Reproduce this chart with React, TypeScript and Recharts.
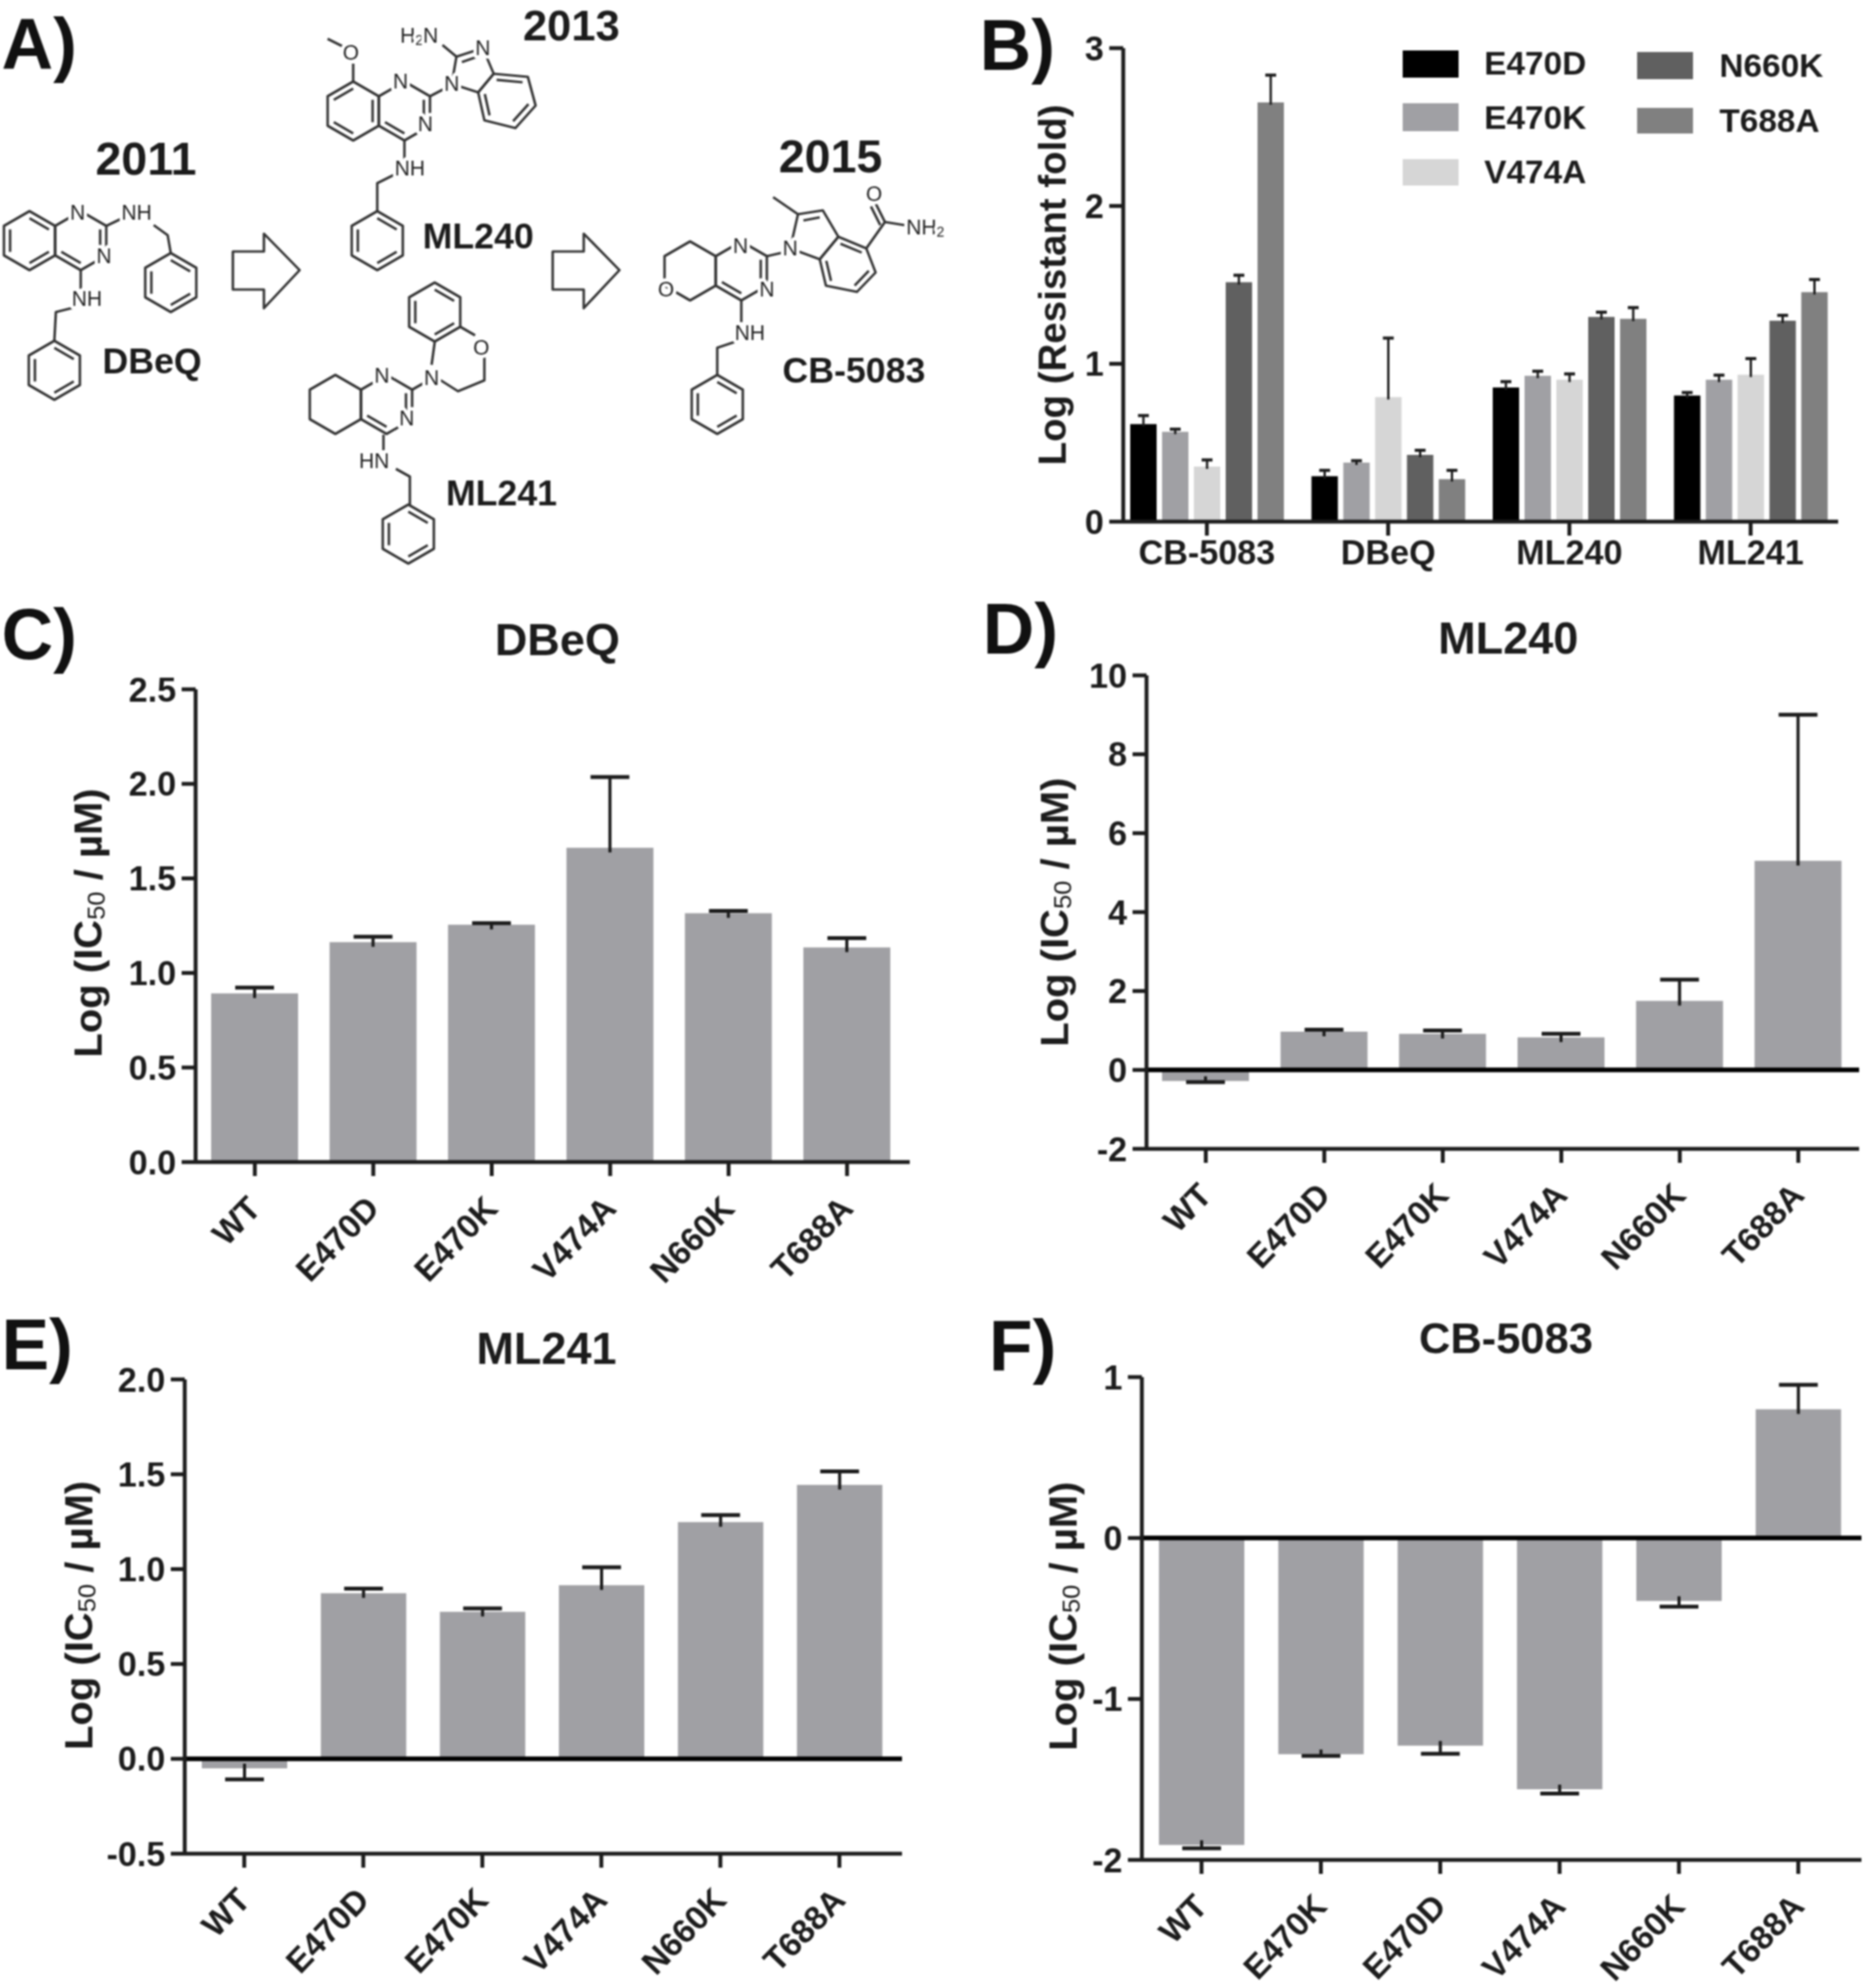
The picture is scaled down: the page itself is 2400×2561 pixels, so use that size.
import React from "react";
import { BarChart, Bar, XAxis, YAxis, ReferenceLine, Legend } from "recharts";

const FONT = "'Liberation Sans', Arial, sans-serif";
const INK = "#1c1c1c";
const BAR_GREY = "#a0a0a4";

// Panel B
const compounds = ["CB-5083", "DBeQ", "ML240", "ML241"];
const e470dFold = [0.618, 0.288, 0.85, 0.799];
const e470dFoldErr = [0.054, 0.037, 0.037, 0.019];
const e470kFold = [0.569, 0.374, 0.924, 0.899];
const e470kFoldErr = [0.017, 0.012, 0.029, 0.029];
const v474aFold = [0.349, 0.789, 0.899, 0.931];
const v474aFoldErr = [0.042, 0.374, 0.037, 0.102];
const n660kFold = [1.517, 0.423, 1.297, 1.273];
const n660kFoldErr = [0.044, 0.029, 0.03, 0.034];
const t688aFold = [2.656, 0.269, 1.285, 1.454];
const t688aFoldErr = [0.173, 0.056, 0.071, 0.08];
const foldTicks = [0, 1, 2, 3];

// Panels C-F
const mutants = ["WT", "E470D", "E470K", "V474A", "N660K", "T688A"];
const mutantsF = ["WT", "E470K", "E470D", "V474A", "N660K", "T688A"];

const dbeqValues = [0.892, 1.163, 1.255, 1.662, 1.316, 1.135];
const dbeqErrors = [0.031, 0.028, 0.008, 0.374, 0.012, 0.049];
const dbeqTicks = [0, 0.5, 1, 1.5, 2, 2.5];

const ml240Values = [-0.28, 0.97, 0.915, 0.825, 1.75, 5.3];
const ml240Errors = [0.03, 0.05, 0.085, 0.09, 0.54, 3.7];
const ml240Ticks = [-2, 0, 2, 4, 6, 8, 10];

const ml241Values = [-0.05, 0.873, 0.775, 0.915, 1.248, 1.444];
const ml241Errors = [0.058, 0.024, 0.018, 0.095, 0.037, 0.071];
const ml241Ticks = [-0.5, 0, 0.5, 1, 1.5, 2];

const cb5083Values = [-1.907, -1.343, -1.29, -1.561, -0.391, 0.8];
const cb5083Errors = [0.021, 0.011, 0.05, 0.027, 0.035, 0.152];
const cb5083Ticks = [-2, -1, 0, 1];

const foldSeries = [
  { key: "E470D", values: e470dFold, errors: e470dFoldErr, color: "#000000" },
  { key: "E470K", values: e470kFold, errors: e470kFoldErr, color: "#a0a0a4" },
  { key: "V474A", values: v474aFold, errors: v474aFoldErr, color: "#d6d6d6" },
  { key: "N660K", values: n660kFold, errors: n660kFoldErr, color: "#606060" },
  { key: "T688A", values: t688aFold, errors: t688aFoldErr, color: "#808080" },
];

const foldData = compounds.map((name, i) => {
  const row: any = { name };
  foldSeries.forEach(s => {
    row[s.key] = s.values[i];
    row[s.key + "Err"] = s.errors[i];
  });
  return row;
});

const toRows = (names: string[], values: number[], errors: number[]) =>
  names.map((name, i) => ({ name, value: values[i], valueErr: errors[i] }));

// bar plus a one-sided whisker, px per unit comes from the bar the library sized
const whiskerBar = (dataKey: string, fill: string, capWidth: number, strokeWidth: number, dip: number) => (props: any) => {
  const { x, y, width, height, payload } = props;
  const value = payload[dataKey];
  const err = payload[dataKey + "Err"];
  const h = Math.abs(height);
  const top = Math.min(y, y + height);
  const neg = value < 0;
  const edge = neg ? top + h : top;
  const len = value !== 0 ? (err * h) / Math.abs(value) : 0;
  const tip = neg ? edge + len : edge - len;
  const inner = neg ? edge - dip : edge + dip;
  const mid = x + width / 2;
  return (
    <g>
      <rect x={x} y={top} width={width} height={h} fill={fill} />
      <line x1={mid} x2={mid} y1={inner} y2={tip} stroke={INK} strokeWidth={strokeWidth} />
      <line x1={mid - capWidth / 2} x2={mid + capWidth / 2} y1={tip} y2={tip} stroke={INK} strokeWidth={strokeWidth + 1} />
    </g>
  );
};

const rotatedTick = (props: any) => {
  const { x, y, payload } = props;
  return (
    <g transform={`translate(${x + 10},${y + 42})`}>
      <text textAnchor="end" transform="rotate(-46)" fontFamily={FONT} fontWeight="bold" fontSize={43} fill={INK}>
        {payload.value}
      </text>
    </g>
  );
};

const AXIS_W = 160;
const AXIS_H = 200;
const TOP_PAD = 40;

function GreyPanel({ rows, ticks, digits, box, barSize, padRight, zeroLine }: any) {
  const [left, right, top, bottom] = box;
  return (
    <div style={{ position: "absolute", left: left - AXIS_W, top: top - TOP_PAD }}>
      <BarChart
        width={right - left + AXIS_W + 10}
        height={bottom - top + TOP_PAD + AXIS_H}
        data={rows}
        margin={{ top: TOP_PAD, right: 10, bottom: 0, left: 0 }}
        barSize={barSize}
      >
        <XAxis
          dataKey="name"
          height={AXIS_H}
          interval={0}
          padding={{ left: 0, right: padRight }}
          tickSize={18}
          tick={rotatedTick}
          stroke={INK}
          strokeWidth={5}
        />
        <YAxis
          type="number"
          width={AXIS_W}
          domain={[ticks[0], ticks[ticks.length - 1]]}
          ticks={ticks}
          interval={0}
          tickSize={18}
          tickMargin={7}
          tickFormatter={(v: number) => v.toFixed(digits)}
          tick={{ fontFamily: FONT, fontWeight: "bold", fontSize: 44, fill: INK }}
          stroke={INK}
          strokeWidth={5}
        />
        <Bar
          dataKey="value"
          isAnimationActive={false}
          shape={whiskerBar("value", BAR_GREY, 50, 4, 6)}
        />
        {zeroLine && <ReferenceLine y={0} stroke="#000" strokeWidth={6} />}
      </BarChart>
    </div>
  );
}

const foldLegend = () => {
  const spots = [
    [1807, 65, 35, 81, 1912],
    [1807, 133, 36, 151, 1912],
    [1807, 205, 34, 221, 1912],
    [2109, 67, 35, 84, 2215],
    [2109, 139, 33, 155, 2215],
  ];
  return (
    <div style={{ position: "absolute", left: 0, top: 0, width: 0, height: 0 }}>
      {foldSeries.map((s, i) => {
        const [sx, sy, sh, ty, tx] = spots[i];
        const ox = 1447 - AXIS_W;
        const oy = 62 - TOP_PAD;
        return (
          <React.Fragment key={s.key}>
            <div style={{ position: "absolute", left: sx - ox, top: sy - oy, width: 72, height: sh, background: s.color }} />
            <div style={{ position: "absolute", left: tx - ox, top: ty - oy - 25, fontFamily: FONT, fontWeight: "bold", fontSize: 43, lineHeight: "50px", color: INK }}>
              {s.key}
            </div>
          </React.Fragment>
        );
      })}
    </div>
  );
};

function FoldPanel() {
  const [left, right, top, bottom] = [1447, 2368, 62, 672];
  return (
    <div style={{ position: "absolute", left: left - AXIS_W, top: top - TOP_PAD }}>
      <BarChart
        width={right - left + AXIS_W + 10}
        height={bottom - top + TOP_PAD + 80}
        data={foldData}
        margin={{ top: TOP_PAD, right: 10, bottom: 0, left: 0 }}
        barSize={34}
        barGap={7}
      >
        <XAxis
          dataKey="name"
          height={80}
          interval={0}
          padding={{ left: -9, right: -4 }}
          tickSize={18}
          tickMargin={6}
          tick={{ fontFamily: FONT, fontWeight: "bold", fontSize: 44, fill: INK }}
          stroke={INK}
          strokeWidth={5}
        />
        <YAxis
          type="number"
          width={AXIS_W}
          domain={[0, 3]}
          ticks={foldTicks}
          interval={0}
          tickSize={18}
          tickMargin={7}
          tick={{ fontFamily: FONT, fontSize: 44, fontWeight: "bold", fill: INK }}
          stroke={INK}
          strokeWidth={5}
        />
        <Legend content={foldLegend} wrapperStyle={{ position: "absolute", left: 0, top: 0, width: 0, height: 0 }} />
        {foldSeries.map(s => (
          <Bar
            key={s.key}
            dataKey={s.key}
            isAnimationActive={false}
            shape={whiskerBar(s.key, s.color, 14, 3, 3)}
          />
        ))}
      </BarChart>
    </div>
  );
}

// ---- panel A: the chemical structures and everything that is only lettering ----

type Pt = [number, number];

const hexPts = (cx: number, cy: number, r = 38): Pt[] =>
  [0, 1, 2, 3, 4, 5].map(i => {
    const a = (-90 + 60 * i) * (Math.PI / 180);
    return [cx + r * Math.cos(a), cy + r * Math.sin(a)] as Pt;
  });

function Ring({ pts, doubles = [] }: { pts: Pt[]; doubles?: number[] }) {
  const cx = pts.reduce((s, p) => s + p[0], 0) / pts.length;
  const cy = pts.reduce((s, p) => s + p[1], 0) / pts.length;
  const pull = (p: Pt): Pt => [cx + (p[0] - cx) * 0.76, cy + (p[1] - cy) * 0.76];
  return (
    <g>
      <polygon points={pts.map(p => p.join(",")).join(" ")} fill="none" />
      {doubles.map(i => {
        const a = pull(pts[i]);
        const b = pull(pts[(i + 1) % pts.length]);
        return <line key={i} x1={a[0]} y1={a[1]} x2={b[0]} y2={b[1]} />;
      })}
    </g>
  );
}

const Path = ({ pts }: { pts: Pt[] }) => <polyline points={pts.map(p => p.join(",")).join(" ")} fill="none" />;

const Atom = ({ x, y, t }: { x: number; y: number; t: React.ReactNode }) => (
  <text
    x={x}
    y={y}
    textAnchor="middle"
    dominantBaseline="central"
    fontFamily={FONT}
    fontSize={27}
    fill="#222"
    stroke="#fff"
    strokeWidth={9}
    paintOrder="stroke"
    style={{ strokeLinejoin: "round" }}
  >
    {t}
  </text>
);

const Sub = ({ t }: { t: string }) => (
  <tspan fontSize={18} dy={6}>{t}</tspan>
);

const Bold = ({ x, y, t, size = 46 }: { x: number; y: number; t: string; size?: number }) => (
  <text x={x} y={y} textAnchor="middle" dominantBaseline="central" fontFamily={FONT} fontWeight="bold" fontSize={size} fill={INK}>
    {t}
  </text>
);

const AxisTitle = ({ x, y, len, children }: any) => (
  <text
    transform={`translate(${x},${y}) rotate(-90)`}
    textAnchor="middle"
    dominantBaseline="central"
    fontFamily={FONT}
    fontWeight="bold"
    fontSize={50}
    fill={INK}
    textLength={len}
    lengthAdjust="spacingAndGlyphs"
  >
    {children}
  </text>
);

const ic50Label = [
  <tspan key="a">Log (IC</tspan>,
  <tspan key="b" fontSize={32} fontWeight="normal" dy={10}>50</tspan>,
  <tspan key="c" dy={-10}> / µM)</tspan>,
];

const PanelLetter = ({ x, y, t }: { x: number; y: number; t: string }) => (
  <text x={x} y={y} fontFamily={FONT} fontWeight="bold" fontSize={92} fill="#111">
    {t}
  </text>
);

const arrowPts = (x: number) =>
  [[x, 324], [x + 40, 324], [x + 40, 301], [x + 86, 348], [x + 40, 397], [x + 40, 373], [x, 373]].map(p => p.join(",")).join(" ");

function Overlay() {
  return (
    <svg width={2400} height={2561} style={{ position: "absolute", left: 0, top: 0, pointerEvents: "none" }}>
      <g stroke="#333" strokeWidth={3.2} strokeLinejoin="round">
        {/* DBeQ */}
        <Ring pts={hexPts(38, 310)} doubles={[0, 2, 4]} />
        <Ring pts={hexPts(104, 310)} doubles={[1, 3]} />
        <Path pts={[[137, 291], [160, 280]]} />
        <Path pts={[[198, 290], [216, 303], [220, 326]]} />
        <Ring pts={hexPts(220, 364)} doubles={[0, 2, 4]} />
        <Path pts={[[104, 348], [104, 372]]} />
        <Path pts={[[96, 396], [72, 402], [70, 439]]} />
        <Ring pts={hexPts(70, 477)} doubles={[0, 2, 4]} />
        {/* ML240 */}
        <Ring pts={hexPts(455, 143)} doubles={[1, 3, 5]} />
        <Ring pts={hexPts(521, 143)} doubles={[1, 3]} />
        <Path pts={[[455, 105], [455, 82]]} />
        <Path pts={[[422, 50], [442, 60]]} />
        <Path pts={[[554, 124], [575, 113]]} />
        <Path pts={[[582, 108], [588, 73], [622, 62], [636, 95], [616, 119], [582, 108]]} />
        <Path pts={[[595, 80], [618, 72]]} />
        <Ring pts={[[636, 95], [680, 99], [690, 136], [664, 165], [624, 155], [616, 119]]} doubles={[0, 2, 4]} />
        <Path pts={[[588, 73], [570, 58]]} />
        <Path pts={[[521, 181], [521, 205]]} />
        <Path pts={[[510, 224], [486, 236], [486, 272]]} />
        <Ring pts={hexPts(486, 310)} doubles={[0, 2, 4]} />
        {/* ML241 */}
        <Ring pts={hexPts(432, 521)} />
        <Ring pts={hexPts(498, 521)} doubles={[1, 3]} />
        <Path pts={[[531, 502], [552, 490]]} />
        <Path pts={[[560, 485], [590, 504], [624, 490], [624, 460]]} />
        <Path pts={[[612, 432], [593, 421]]} />
        <Path pts={[[560, 441], [556, 470]]} />
        <Ring pts={hexPts(560, 402)} doubles={[0, 2, 4]} />
        <Path pts={[[494, 560], [494, 580]]} />
        <Path pts={[[510, 604], [528, 614], [528, 652]]} />
        <Ring pts={hexPts(526, 688)} doubles={[0, 2, 4]} />
        {/* CB-5083 */}
        <Ring pts={hexPts(955, 349)} doubles={[1, 3]} />
        <Ring pts={hexPts(889, 349)} />
        <Path pts={[[988, 330], [1010, 325]]} />
        <Path pts={[[1018, 320], [1028, 276], [1060, 271], [1080, 305], [1056, 334], [1018, 320]]} />
        <Path pts={[[1035, 284], [1056, 280]]} />
        <Path pts={[[996, 254], [1028, 276]]} />
        <Ring pts={[[1080, 305], [1116, 320], [1128, 351], [1104, 376], [1064, 368], [1056, 334]]} doubles={[0, 2, 4]} />
        <Path pts={[[1116, 320], [1140, 286], [1165, 290]]} />
        <Path pts={[[1140, 286], [1128, 262]]} />
        <Path pts={[[1134, 290], [1122, 266]]} />
        <Path pts={[[955, 387], [955, 415]]} />
        <Path pts={[[948, 440], [924, 448], [924, 483]]} />
        <Ring pts={hexPts(924, 521)} doubles={[0, 2, 4]} />
        {/* arrows */}
        <polygon points={arrowPts(300)} fill="none" />
        <polygon points={arrowPts(712)} fill="none" />
      </g>

      <Atom x={100} y={274} t="N" />
      <Atom x={134} y={330} t="N" />
      <Atom x={176} y={274} t="NH" />
      <Atom x={112} y={385} t="NH" />

      <Atom x={452} y={68} t="O" />
      <Atom x={516} y={105} t="N" />
      <Atom x={548} y={160} t="N" />
      <Atom x={582} y={108} t="N" />
      <Atom x={622} y={62} t="N" />
      <Atom x={540} y={46} t={<>H<Sub t="2" /><tspan dy={-6}>N</tspan></>} />
      <Atom x={528} y={217} t="NH" />

      <Atom x={492} y={484} t="N" />
      <Atom x={524} y={539} t="N" />
      <Atom x={556} y={487} t="N" />
      <Atom x={620} y={448} t="O" />
      <Atom x={482} y={594} t="HN" />

      <Atom x={954} y={317} t="N" />
      <Atom x={988} y={373} t="N" />
      <Atom x={858} y={373} t="O" />
      <Atom x={1018} y={320} t="N" />
      <Atom x={1126} y={250} t="O" />
      <Atom x={1192} y={293} t={<>NH<Sub t="2" /></>} />
      <Atom x={966} y={429} t="NH" />

      <Bold x={188} y={204} t="2011" size={60} />
      <Bold x={736} y={32} t="2013" size={56} />
      <Bold x={1070} y={201} t="2015" size={60} />
      <Bold x={196} y={465} t="DBeQ" />
      <Bold x={616} y={304} t="ML240" />
      <Bold x={646} y={635} t="ML241" />
      <Bold x={1100} y={477} t="CB-5083" />

      <PanelLetter x={2} y={88} t="A)" />
      <PanelLetter x={1262} y={90} t="B)" />
      <PanelLetter x={2} y={849} t="C)" />
      <PanelLetter x={1266} y={842} t="D)" />
      <PanelLetter x={2} y={1764} t="E)" />
      <PanelLetter x={1274} y={1765} t="F)" />

      <Bold x={718} y={823} t="DBeQ" size={58} />
      <Bold x={1943} y={821} t="ML240" size={58} />
      <Bold x={704} y={1736} t="ML241" size={58} />
      <Bold x={1940} y={1723} t="CB-5083" size={56} />

      <AxisTitle x={1356} y={367} len={465}>Log (Resistant fold)</AxisTitle>
      <AxisTitle x={114} y={1189} len={347}>{ic50Label}</AxisTitle>
      <AxisTitle x={1359} y={1175} len={347}>{ic50Label}</AxisTitle>
      <AxisTitle x={102} y={2081} len={347}>{ic50Label}</AxisTitle>
      <AxisTitle x={1370} y={2082} len={347}>{ic50Label}</AxisTitle>
    </svg>
  );
}

export default function App() {
  return (
    <div style={{ position: "absolute", left: 0, top: 0, width: 2400, height: 2561, overflow: "hidden", background: "#fff", filter: "blur(1.1px)" }}>
      <FoldPanel />
      <GreyPanel rows={toRows(mutants, dbeqValues, dbeqErrors)} ticks={dbeqTicks} digits={1} box={[252, 1172, 888, 1497]} barSize={112} padRight={4.5} />
      <GreyPanel rows={toRows(mutants, ml240Values, ml240Errors)} ticks={ml240Ticks} digits={0} box={[1477, 2395, 870, 1480]} barSize={112} padRight={2} zeroLine />
      <GreyPanel rows={toRows(mutants, ml241Values, ml241Errors)} ticks={ml241Ticks} digits={1} box={[238, 1162, 1777, 2388]} barSize={110} padRight={4} zeroLine />
      <GreyPanel rows={toRows(mutantsF, cb5083Values, cb5083Errors)} ticks={cb5083Ticks} digits={0} box={[1471, 2398, 1774, 2396]} barSize={110} padRight={4.5} zeroLine />
      <Overlay />
    </div>
  );
}
